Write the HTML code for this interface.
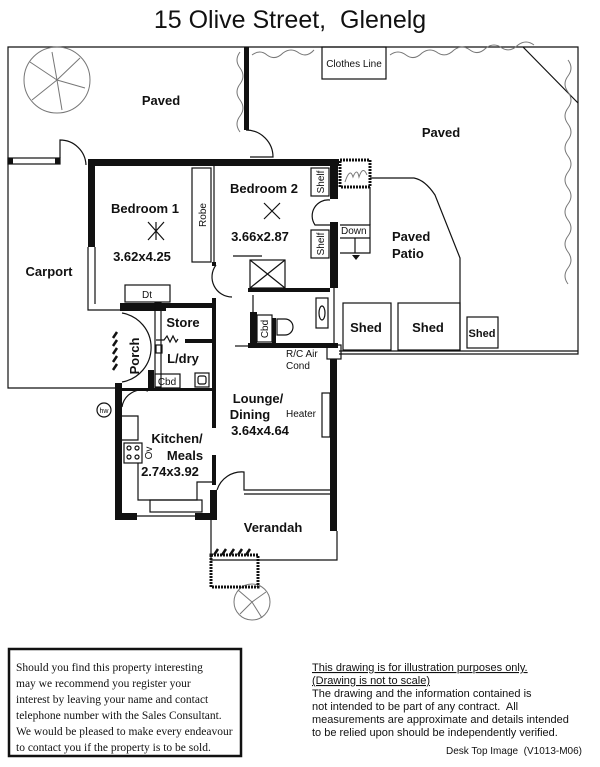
<!DOCTYPE html>
<html><head><style>
body{margin:0;background:#fff;width:600px;height:767px;overflow:hidden}
svg{display:block}
text{white-space:pre}
.l{font-family:"Liberation Sans",sans-serif;font-weight:bold;font-size:13px;fill:#111}
.s{font-family:"Liberation Sans",sans-serif;font-size:10px;fill:#111}
.w{fill:#111}
.t{fill:none;stroke:#111;stroke-width:1.2}
.b{fill:none;stroke:#777;stroke-width:1}
</style></head><body>
<svg width="600" height="767" viewBox="0 0 600 767">
<text x="290" y="28" text-anchor="middle" font-family="Liberation Sans" font-size="25" fill="#111">15 Olive Street,  Glenelg</text>
<!-- yards -->
<polyline class="t" points="8,160 8,388 120,388"/>
<polyline class="t" points="8,160 8,47 578,47 578,354 339,354"/>
<line class="t" x1="339" y1="351" x2="578" y2="351"/>
<rect x="8" y="158" width="52" height="6" class="t"/>
<rect x="8" y="158" width="5" height="6" class="w"/><rect x="55" y="158" width="5" height="6" class="w"/>
<path class="t" d="M60 158 V140 A26 26 0 0 1 86 165"/>
<rect x="244" y="47" width="5" height="83" class="w"/>
<path class="t" d="M246 130 A27 27 0 0 1 273 157 H250"/>
<rect x="322" y="47" width="64" height="32" class="t"/>
<text x="354" y="67" text-anchor="middle" class="s">Clothes Line</text>
<line class="t" x1="523" y1="47" x2="578" y2="103"/>
<!-- bushes -->
<path class="b" d="M252 55 q8 -6 15 0 q8 6 16 -2 q8 -6 16 0 q8 5 15 -3 M390 55 q8 -6 16 0 q8 6 16 -2 q8 -6 16 0 q8 5 16 -3 q8 -6 16 0 q8 6 16 -2 q8 -6 16 0 q8 5 16 -3 q8 -6 16 0 M568 60 q6 8 0 16 q-6 8 0 16 q6 8 0 16 q-6 8 0 16 q6 8 0 16 q-6 8 0 16 q6 8 0 16 q-6 8 0 16 q6 8 0 16 q-6 8 0 16 q6 8 0 16 q-6 8 0 16 q6 8 0 16 q-6 8 0 16 M240 52 q-6 8 0 16 q6 8 0 16 q-6 8 0 16 q6 8 0 16 q-6 8 0 16"/>
<!-- trees -->
<g class="b"><circle cx="57" cy="80" r="33"/><path d="M57 80 L30 62 M57 80 L80 58 M57 80 L85 88 M57 80 L62 110 M57 80 L32 100 M57 80 L52 52"/></g>
<g class="b"><circle cx="252" cy="602" r="18"/><path d="M252 602 L238 590 M252 602 L266 592 M252 602 L262 618 M252 602 L240 614"/></g>
<text x="161" y="105" text-anchor="middle" class="l">Paved</text>
<text x="441" y="137" text-anchor="middle" class="l">Paved</text>
<text x="49" y="276" text-anchor="middle" class="l">Carport</text>
<!-- house walls -->
<rect x="88" y="159" width="251" height="7" class="w"/>
<rect x="88" y="159" width="7" height="88" class="w"/>
<polyline class="t" points="88,247 88,310 120,310"/>
<line class="t" x1="95" y1="247" x2="95" y2="304"/>
<rect x="120" y="303" width="40" height="8" class="w"/>
<rect x="148" y="303" width="64" height="5" class="w"/>
<rect x="192" y="168" width="19" height="94" class="t"/>
<text transform="translate(206,215) rotate(-90)" text-anchor="middle" class="s">Robe</text>
<line class="t" x1="214" y1="166" x2="214" y2="265"/>
<rect x="330" y="159" width="8" height="40" class="w"/>
<rect x="330" y="222" width="8" height="66" class="w"/>
<line class="t" x1="334" y1="288" x2="334" y2="345"/>
<rect x="311" y="168" width="18" height="28" class="t"/>
<rect x="311" y="230" width="18" height="28" class="t"/>
<text transform="translate(324,182) rotate(-90)" text-anchor="middle" class="s">Shelf</text>
<text transform="translate(324,244) rotate(-90)" text-anchor="middle" class="s">Shelf</text>
<path class="t" d="M330 200 A16 16 0 0 0 315 225 H330"/>
<rect x="340" y="160" width="30" height="27" fill="none" stroke="#111" stroke-width="3" stroke-dasharray="2 1"/>
<path class="b" d="M345 182 q5 -15 8 -5 q4 -10 6 0 q4 -12 8 -2"/>
<polyline class="t" points="340,225 370,225 370,253 340,253"/>
<line class="t" x1="340" y1="238" x2="370" y2="238"/><line class="t" x1="355" y1="238" x2="355" y2="253"/>
<text x="341" y="234" class="s">Down</text>
<path d="M352 255 l4 5 l4 -5z" class="w"/>
<line class="t" x1="370" y1="187" x2="370" y2="225"/>
<path class="t" d="M370 178 H414 Q425 180 435 195 L460 258 V351"/>
<text x="392" y="241" class="l">Paved</text><text x="392" y="258" class="l">Patio</text>
<rect x="343" y="303" width="48" height="47" class="t"/><text x="366" y="332" text-anchor="middle" class="l">Shed</text>
<rect x="398" y="303" width="62" height="47" class="t"/><text x="428" y="332" text-anchor="middle" class="l">Shed</text>
<rect x="467" y="317" width="31" height="31" class="t"/><text x="482" y="337" text-anchor="middle" class="l" style="font-size:11px">Shed</text>
<!-- bedroom labels -->
<text x="145" y="213" text-anchor="middle" class="l">Bedroom 1</text>
<text x="142" y="261" text-anchor="middle" class="l">3.62x4.25</text>
<text x="264" y="193" text-anchor="middle" class="l">Bedroom 2</text>
<text x="260" y="241" text-anchor="middle" class="l">3.66x2.87</text>
<g class="t"><path d="M148 222 L164 240 M164 222 L148 240 M156 222 v18"/></g>
<g class="t"><path d="M264 203 L280 219 M280 203 L264 219"/></g>
<rect x="125" y="285" width="45" height="17" class="t"/><text x="147" y="298" text-anchor="middle" class="s">Dt</text>
<!-- middle walls -->
<rect x="212" y="262" width="4" height="4" class="w"/>
<path class="t" d="M216 265 A20 20 0 0 0 232 297"/>
<rect x="212" y="298" width="4" height="130" class="w"/>
<rect x="212" y="455" width="4" height="30" class="w"/>
<line class="t" x1="233" y1="256" x2="262" y2="256"/>
<rect x="248" y="288" width="82" height="4" class="w"/>
<line class="t" x1="253" y1="295" x2="253" y2="335"/>
<rect x="250" y="260" width="35" height="28" class="t"/><path class="t" d="M250 260 L285 288 M285 260 L250 288"/>
<rect x="316" y="298" width="12" height="30" class="t"/><ellipse cx="322" cy="313" rx="3" ry="7" class="t"/>
<rect x="250" y="312" width="7" height="34" class="w"/>
<rect x="257" y="315" width="15" height="27" class="t"/>
<text transform="translate(268,329) rotate(-90)" text-anchor="middle" class="s">Cbd</text>
<rect x="272" y="318" width="4" height="26" class="w"/>
<path class="t" d="M277 319 h8 a8 8 0 0 1 0 16 h-8z"/>
<rect x="248" y="343" width="90" height="5" class="w"/>
<line class="t" x1="235" y1="346" x2="248" y2="346"/>
<rect x="327" y="345" width="14" height="14" class="t" fill="#fff"/>
<text x="286" y="357" class="s">R/C Air</text><text x="286" y="369" class="s">Cond</text>
<rect x="330" y="359" width="7" height="172" class="w"/>
<rect x="322" y="393" width="8" height="44" class="t"/>
<text x="286" y="417" class="s">Heater</text>
<!-- store laundry porch -->
<rect x="155" y="303" width="6" height="84" class="t"/>
<rect x="160" y="303" width="6" height="8" class="w"/>
<text x="183" y="327" text-anchor="middle" class="l">Store</text>
<path class="t" d="M156 340 h8 l3 -4 l3 6 l3 -6 l3 6 l2 -3"/>
<rect x="185" y="339" width="30" height="4" class="w"/>
<rect x="156" y="345" width="6" height="8" class="t"/>
<text x="183" y="363" text-anchor="middle" class="l">L/dry</text>
<text transform="translate(139,356) rotate(-90)" text-anchor="middle" class="l">Porch</text>
<path class="t" d="M122 313 A35 35 0 0 1 122 382"/>
<path d="M117 332 l-4 6 M117 340 l-4 6 M117 348 l-4 6 M117 356 l-4 6 M117 364 l-4 6" stroke="#111" stroke-width="2.5"/>
<rect x="148" y="370" width="6" height="20" class="w"/>
<rect x="155" y="374" width="25" height="14" class="t"/><text x="167" y="385" text-anchor="middle" class="s">Cbd</text>
<rect x="195" y="373" width="14" height="14" class="t"/><rect x="198" y="376" width="8" height="8" rx="2" class="t"/>
<rect x="122" y="388" width="92" height="3" class="w"/>
<path class="t" d="M122 407 A20 20 0 0 1 148 391"/>
<!-- kitchen -->
<rect x="115" y="383" width="7" height="137" class="w"/>
<rect x="115" y="513" width="22" height="7" class="w"/>
<rect x="195" y="513" width="22" height="7" class="w"/>
<line class="t" x1="137" y1="516" x2="195" y2="516"/>
<rect x="210" y="490" width="7" height="30" class="w"/>
<polyline class="t" points="122,416 138,416 138,440 122,440"/>
<rect x="124" y="443" width="18" height="20" class="t"/>
<circle cx="129" cy="448" r="2" class="t"/><circle cx="137" cy="448" r="2" class="t"/><circle cx="129" cy="457" r="2" class="t"/><circle cx="137" cy="457" r="2" class="t"/>
<text transform="translate(152,453) rotate(-90)" text-anchor="middle" class="s">Ov</text>
<polyline class="t" points="138,463 138,500 197,500 197,482 212,482"/>
<rect x="150" y="500" width="52" height="12" class="t"/>
<circle cx="104" cy="410" r="7" class="t"/><text x="104" y="413" text-anchor="middle" class="s" style="font-size:7px">hw</text>
<text x="177" y="443" text-anchor="middle" class="l">Kitchen/</text>
<text x="185" y="460" text-anchor="middle" class="l">Meals</text>
<text x="170" y="476" text-anchor="middle" class="l">2.74x3.92</text>
<text x="258" y="403" text-anchor="middle" class="l">Lounge/</text>
<text x="250" y="419" text-anchor="middle" class="l">Dining</text>
<text x="260" y="435" text-anchor="middle" class="l">3.64x4.64</text>
<!-- verandah -->
<path class="t" d="M217 490 A26 26 0 0 1 244 472 V490 H330 M244 494 H330"/>
<polyline class="t" points="211,520 211,560 337,560 337,531"/>
<text x="273" y="532" text-anchor="middle" class="l">Verandah</text>
<rect x="211" y="555" width="47" height="32" fill="none" stroke="#111" stroke-width="3" stroke-dasharray="2 1"/>
<path d="M214 555 l4 -6 M222 555 l4 -6 M230 555 l4 -6 M238 555 l4 -6 M246 555 l4 -6" stroke="#111" stroke-width="2.5"/>
<!-- bottom text -->
<rect x="9" y="649" width="232" height="107" fill="none" stroke="#111" stroke-width="2.5"/>
<g font-family="Liberation Serif" font-size="11.5" fill="#111">
<text x="16" y="671">Should you find this property interesting</text>
<text x="16" y="687">may we recommend you register your</text>
<text x="16" y="703">interest by leaving your name and contact</text>
<text x="16" y="719">telephone number with the Sales Consultant.</text>
<text x="16" y="735">We would be pleased to make every endeavour</text>
<text x="16" y="751">to contact you if the property is to be sold.</text>
</g>
<g font-family="Liberation Sans" font-size="11" fill="#111">
<text x="312" y="671" text-decoration="underline">This drawing is for illustration purposes only.</text>
<text x="312" y="684" text-decoration="underline">(Drawing is not to scale)</text>
<text x="312" y="697">The drawing and the information contained is</text>
<text x="312" y="710">not intended to be part of any contract.  All</text>
<text x="312" y="723">measurements are approximate and details intended</text>
<text x="312" y="736">to be relied upon should be independently verified.</text>
<text x="582" y="754" text-anchor="end" font-size="10">Desk Top Image  (V1013-M06)</text>
</g>
</svg>
</body></html>
